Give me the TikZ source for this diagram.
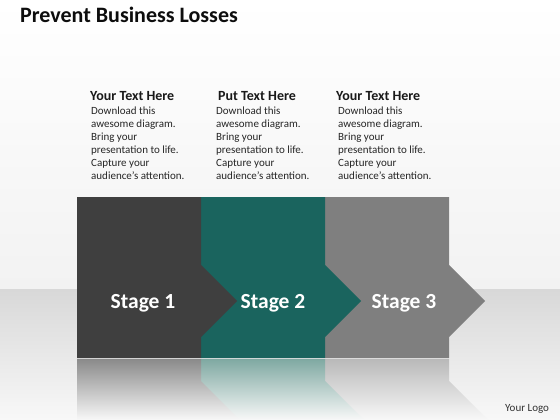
\documentclass[tikz,border=0pt]{standalone}
\usepackage{fontspec}
\setmainfont{Carlito}
\begin{document}
\begin{tikzpicture}[x=1pt,y=-1pt,
  hdr/.style={anchor=base west,inner sep=0pt,font=\fontsize{14}{16}\selectfont\bfseries,text=black!90},
  body/.style={anchor=north west,inner sep=0pt,align=left,font=\fontsize{11}{13}\selectfont,text=black!85},
  stagelbl/.style={anchor=base,inner sep=0pt,font=\fontsize{21.5}{24}\selectfont\bfseries,text=white},
]
\definecolor{sone}{HTML}{3F3F3F}
\definecolor{stwo}{HTML}{1A645E}
\definecolor{sthree}{HTML}{7F7F7F}
\definecolor{rone}{HTML}{8A8A8A}
\definecolor{rtwo}{HTML}{7FA9A2}
\definecolor{rthree}{HTML}{B9B9B9}
\definecolor{bgtop}{HTML}{F2F2F2}
\definecolor{floortop}{HTML}{D8D8D8}
\definecolor{floorbot}{HTML}{F8F8F8}
\useasboundingbox (0,0) rectangle (560,420);
% background
\shade[top color=white,bottom color=bgtop] (0,0) rectangle (560,289);
\shade[top color=floortop,bottom color=floorbot] (0,289) rectangle (560,420);
% reflections
\begin{scope}
  \clip (0,359) rectangle (560,420);
  \begin{scope}
    \clip (325,359) -- (449,359) -- (449,381) -- (485,417) -- (488,420) -- (325,420) -- cycle;
    \shade[top color=rthree,bottom color=floorbot] (320,359) rectangle (500,420);
  \end{scope}
  \begin{scope}
    \clip (201,359) -- (325,359) -- (325,381) -- (361,417) -- (364,420) -- (201,420) -- cycle;
    \shade[top color=rtwo,bottom color=floorbot] (200,359) rectangle (370,420);
  \end{scope}
  \begin{scope}
    \clip (77,359) -- (201,359) -- (201,381) -- (237,417) -- (240,420) -- (77,420) -- cycle;
    \shade[top color=rone,bottom color=floorbot] (77,359) rectangle (245,420);
  \end{scope}
\end{scope}
% stages
\fill[sthree] (325,197) -- (449,197) -- (449,265) -- (485,301) -- (449,337) -- (449,358) -- (325,358) -- cycle;
\fill[stwo] (201,197) -- (325,197) -- (325,265) -- (361,301) -- (325,337) -- (325,358) -- (201,358) -- cycle;
\fill[sone] (77,197) -- (201,197) -- (201,265) -- (237,301) -- (201,337) -- (201,358) -- (77,358) -- cycle;
\node[stagelbl] (l1) at (143,308) {Stage 1};
\node[stagelbl] (l2) at (273,308) {Stage 2};
\node[stagelbl] (l3) at (404,308) {Stage 3};
% title
\node[anchor=base west,inner sep=0pt,font=\fontsize{22}{26}\selectfont\bfseries,text=black!95] (title) at (20,23) {Prevent Business Losses};
% columns
\node[hdr] (h1) at (90,100) {Your Text Here};
\node[hdr] (h2) at (218,100) {Put Text Here};
\node[hdr] (h3) at (336,100) {Your Text Here};
\node[body] (b1) at (91,106.5) {Download this\\awesome diagram.\\Bring your\\presentation to life.\\Capture your\\audience’s attention.};
\node[body] (b2) at (216,106.5) {Download this\\awesome diagram.\\Bring your\\presentation to life.\\Capture your\\audience’s attention.};
\node[body] (b3) at (338,106.5) {Download this\\awesome diagram.\\Bring your\\presentation to life.\\Capture your\\audience’s attention.};
% logo
\node[anchor=base west,inner sep=0pt,font=\fontsize{11}{13}\selectfont,text=black!80] (logo) at (505,411) {Your Logo};
\end{tikzpicture}
\end{document}
